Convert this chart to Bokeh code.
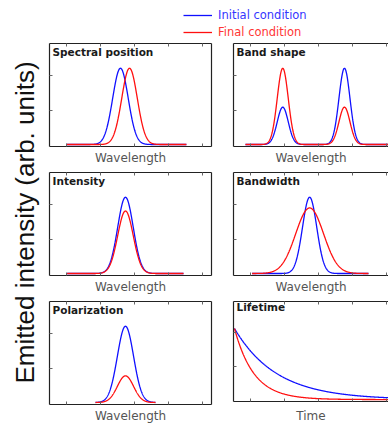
import numpy as np
from bokeh.plotting import figure
from bokeh.models import Range1d, FixedTicker, LinearAxis, Label, Legend, LegendItem
from bokeh.layouts import column, row
from bokeh.embed import file_html
from bokeh.resources import INLINE

# ---------------- data ----------------
titles = ["Spectral position", "Band shape", "Intensity", "Bandwidth", "Polarization", "Lifetime"]
xlabels = ["Wavelength", "Wavelength", "Wavelength", "Wavelength", "Wavelength", "Time"]
series_names = ["Initial condition", "Final condition"]
y_label = "Emitted intensity (arb. units)"

# extent of the drawn curves along each panel's axis (axis units)
x_start = [1.05, 0.74, 1.09, 1.15, 2.84, 0.06]
x_end = [8.45, 9.80, 8.27, 8.33, 6.54, 9.80]

# Spectral position: one band that shifts
sp_center = [4.38, 4.94]      # initial, final
sp_sigma = [0.48, 0.48]
sp_amp = [1.00, 1.00]
# Band shape: two bands whose relative heights swap
bs_centers = [3.04, 6.85]
bs_sigma = [0.34, 0.34]
bs_amp_initial = [0.49, 1.00]
bs_amp_final = [1.00, 0.49]
# Intensity
in_center = [4.69, 4.69]
in_sigma = [0.48, 0.48]
in_amp = [1.00, 0.82]
# Bandwidth
bw_center = [4.70, 4.70]
bw_sigma = [0.44, 0.86]
bw_amp = [1.00, 0.86]
# Polarization
po_center = [4.69, 4.69]
po_sigma = [0.50, 0.50]
po_amp = [1.00, 0.35]
# Lifetime (decay)
lt_amp = [0.96, 0.96]
lt_tau = [2.60, 1.20]

# tick positions (axis units)
x_ticks = [1.05, 3.15, 5.25, 7.35, 9.45]
y_ticks = [0.45, 0.90]

# ---------------- styles ----------------
BLUE, RED = "#1010ff", "#ff1010"
BLUE_TXT, RED_TXT = "#3535ff", "#ff3535"
FONT = "DejaVu Sans"
PX_PER_UNIT = 16.2
FRAME_H = 104
Y0 = -0.026
Y1 = Y0 + FRAME_H / 77.0


def gauss(x, c, s, a):
    return a * np.exp(-0.5 * ((x - c) / s) ** 2)


def curves(i):
    x = np.linspace(x_start[i], x_end[i], 400)
    if i == 0:
        ys = [gauss(x, sp_center[k], sp_sigma[k], sp_amp[k]) for k in range(2)]
    elif i == 1:
        ys = [sum(gauss(x, bs_centers[j], bs_sigma[j], amps[j]) for j in range(2))
              for amps in (bs_amp_initial, bs_amp_final)]
    elif i == 2:
        ys = [gauss(x, in_center[k], in_sigma[k], in_amp[k]) for k in range(2)]
    elif i == 3:
        ys = [gauss(x, bw_center[k], bw_sigma[k], bw_amp[k]) for k in range(2)]
    elif i == 4:
        ys = [gauss(x, po_center[k], po_sigma[k], po_amp[k]) for k in range(2)]
    else:
        ys = [lt_amp[k] * np.exp(-(x - x_start[i]) / lt_tau[k]) for k in range(2)]
    return x, ys


def style_axis(ax, ticks, show_ticks=True):
    ax.ticker = FixedTicker(ticks=ticks, minor_ticks=[])
    ax.major_label_overrides = {t: "" for t in ticks}
    ax.major_label_text_font_size = "0px"
    ax.major_label_standoff = 0
    ax.major_tick_in = 3
    ax.major_tick_out = 0
    ax.major_tick_line_color = "#666666" if show_ticks else None
    ax.minor_tick_line_color = None
    ax.axis_line_color = "#222222"
    ax.axis_line_width = 1.2


def panel(i):
    col = i % 2
    first = i < 2
    fw = 162 if col == 0 else 155
    bl = 5 if col == 0 else 11
    br = 11 if col == 0 else 0
    bt = 3 if first else 5
    bb = 20
    p = figure(width=bl + fw + br, height=bt + FRAME_H + bb,
               x_range=Range1d(0, fw / PX_PER_UNIT), y_range=Range1d(Y0, Y1),
               x_axis_type=None, y_axis_type=None,
               min_border_left=bl, min_border_right=br,
               min_border_top=bt, min_border_bottom=bb,
               output_backend="svg", toolbar_location=None)
    p.outline_line_color = None

    below = LinearAxis(axis_label=xlabels[i])
    style_axis(below, x_ticks)
    below.axis_label_text_font = FONT
    below.axis_label_text_font_size = "12px"
    below.axis_label_text_font_style = "normal"
    below.axis_label_text_color = "#555555"
    below.axis_label_standoff = 4 if i < 5 else 7
    p.add_layout(below, "below")

    above = LinearAxis()
    style_axis(above, x_ticks)
    p.add_layout(above, "above")

    left = LinearAxis()
    style_axis(left, y_ticks)
    p.add_layout(left, "left")

    if col == 0:
        right = LinearAxis()
        style_axis(right, y_ticks, show_ticks=False)
        p.add_layout(right, "right")

    x, ys = curves(i)
    p.line(x, ys[0], line_color=BLUE, line_width=1.3)
    p.line(x, ys[1], line_color=RED, line_width=1.3)

    p.add_layout(Label(x=3, y=FRAME_H - 3, x_units="screen", y_units="screen",
                       text=titles[i], text_align="left", text_baseline="top",
                       text_font=FONT, text_font_style="bold",
                       text_font_size="10.5px", text_color="#1a1a1a"))
    return p


panels = [panel(i) for i in range(6)]

# legend strip
lg = figure(width=388, height=40, x_range=Range1d(0, 1), y_range=Range1d(0, 1),
            x_axis_type=None, y_axis_type=None, min_border=0,
            output_backend="svg", toolbar_location=None)
lg.outline_line_color = None
r_init = lg.line(x=[np.nan], y=[np.nan], line_color=BLUE, line_width=1.3)
r_final = lg.line(x=[np.nan], y=[np.nan], line_color=RED, line_width=1.3)
for r, name, tc, vy in [(r_init, series_names[0], BLUE_TXT, 17),
                        (r_final, series_names[1], RED_TXT, 0)]:
    leg = Legend(items=[LegendItem(label=name, renderers=[r])], location=(183, vy),
                 glyph_width=29, glyph_height=16, label_height=16, label_standoff=6,
                 padding=0, margin=0, spacing=0, border_line_color=None,
                 background_fill_alpha=0, label_text_font=FONT,
                 label_text_font_size="11.5px", label_text_color=tc)
    lg.add_layout(leg)

# y label strip
yl = figure(width=44, height=385, x_range=Range1d(0, 1), y_range=Range1d(0, 1),
            x_axis_type=None, y_axis_type=None, min_border=0,
            output_backend="svg", toolbar_location=None)
yl.outline_line_color = None
yl.add_layout(Label(x=24, y=203, x_units="screen", y_units="screen", text=y_label,
                    angle=np.pi / 2, text_align="center", text_baseline="middle",
                    text_font="Liberation Sans", text_font_size="26px", text_color="#111111"))

layout = column(lg, row(yl, column(panels[0], panels[2], panels[4]),
                        column(panels[1], panels[3], panels[5])))

open("out.html", "w").write(file_html(layout, INLINE))
